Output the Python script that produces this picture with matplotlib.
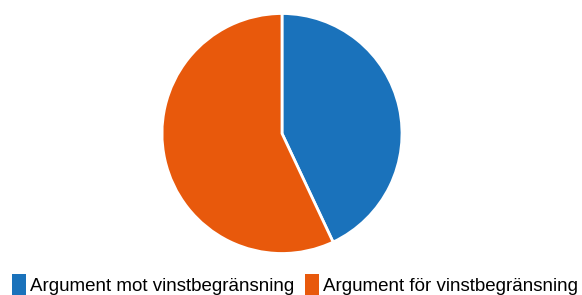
import matplotlib

matplotlib.use("Agg")
import matplotlib.pyplot as plt
from matplotlib.patches import Patch

labels = ["Argument mot vinstbegränsning", "Argument för vinstbegränsning"]
values = [43, 57]
colors = ["#1a72bb", "#e8590c"]

W, H = 582, 295
fig = plt.figure(figsize=(W / 100, H / 100), dpi=100)
plt.rcParams["font.family"] = ["Liberation Sans", "DejaVu Sans"]

# pie box in pixels: center (282, 133.5), radius 120
cx, cy, r = 282, 133.5, 120
ax = fig.add_axes([(cx - r) / W, (H - cy - r) / H, 2 * r / W, 2 * r / H])
ax.pie(values, colors=colors, startangle=90, counterclock=False, radius=1,
       wedgeprops=dict(edgecolor="white", linewidth=2))
ax.set_xlim(-1, 1)
ax.set_ylim(-1, 1)
ax.set_aspect("equal")
ax.axis("off")

handles = [Patch(facecolor=c, edgecolor="none") for c in colors]
fig.legend(handles, labels, loc="center", bbox_to_anchor=(295 / W, (H - 284.5) / H),
           ncol=2, frameon=False, fontsize=13.5, handlelength=0.75,
           handleheight=1.3, handletextpad=0.2, columnspacing=0.6,
           borderaxespad=0)

fig.savefig("out.png", dpi=100, facecolor="white")
